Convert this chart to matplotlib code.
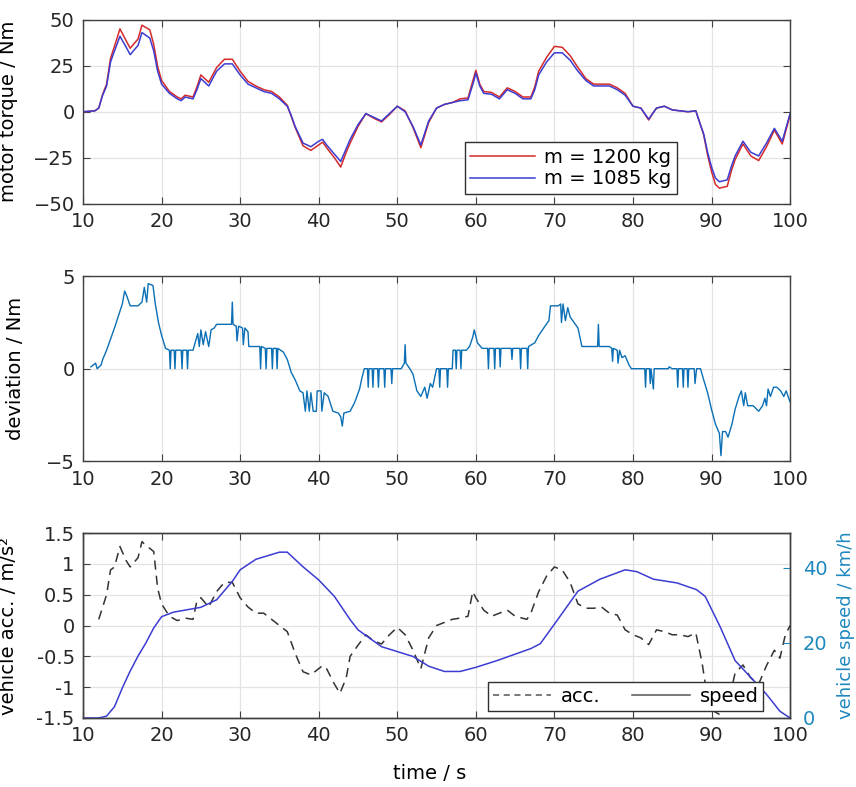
import matplotlib
matplotlib.use("Agg")
import matplotlib.pyplot as plt
from matplotlib.lines import Line2D

# ---- data ----
tq_t = [10, 11.5, 12, 12.5, 13, 13.5, 14, 14.7, 15.5, 16, 17, 17.5, 18.5, 19, 19.5, 20, 21, 22, 22.5, 23,
        24, 24.5, 25, 26, 27, 28, 29, 30, 31, 32, 33, 34, 35, 36, 36.5, 37, 38, 39, 40, 40.5,
        41, 42, 42.8, 43.5, 44, 45, 46, 47, 48, 49, 50, 51, 52, 53, 54, 55, 56, 57, 58, 59,
        59.7, 60, 60.5, 61, 62, 63, 64, 65, 66, 67, 67.5, 68, 69, 70, 71, 72, 73, 74, 75, 76,
        77, 78, 79, 80, 81, 82, 82.5, 83, 84, 85, 86, 87, 88, 88.5, 89, 89.5, 90, 90.5, 91, 92,
        92.5, 93, 94, 95, 96, 97, 98, 99, 100]
tq_1200 = [0, 0.5, 2, 9.5, 15, 29, 35.5, 45, 38.5, 34.5, 39.5, 47, 44.5, 36.5, 24.5, 17, 11, 8, 7, 9,
           8, 13.5, 20, 16, 24, 28.5, 28.5, 22, 16.5, 14, 12, 11, 8, 3.5, -2.5, -8.5, -18.5, -21, -18, -16.5,
           -19.5, -25, -30, -22, -17, -8, -1, -3.5, -5.5, -1.5, 3, 0.5, -8.5, -19.5, -5.8, 2, 4, 5, 7, 7.5,
           18, 22.5, 15, 11, 10.5, 8, 13, 11, 8, 8, 13.5, 22, 29.5, 35.5, 35, 30.5, 24, 18, 15, 15,
           15, 13, 10, 3, 2, -4.5, -1, 2, 3, 1, 0.5, 0, 0.5, -6, -12.5, -23.5, -32.5, -39.5, -41.5, -40.5,
           -32.5, -26, -17.5, -24, -26.5, -19, -10, -17.5, -1.8]
tq_1085 = [0, 0.5, 2, 9, 14, 27, 33, 41, 35, 31, 36, 43, 40, 33, 22, 15, 10, 7, 6, 8,
           7, 12, 18, 14, 22, 26, 26, 20, 15, 13, 11, 10, 7, 3, -2, -8, -17, -19, -16, -15,
           -18, -23, -27, -20, -15, -7, -1, -3, -5, -1, 3, 0, -8, -18, -5, 2, 4, 5, 6, 6.5,
           16, 21, 14, 10, 9.5, 7, 12, 10, 7, 7, 12, 20, 27, 32, 32, 28, 22, 17, 14, 14,
           14, 12, 9, 3, 2, -4, -1, 2, 3, 1, 0.5, 0, 0.5, -6, -12, -22, -30, -36, -38, -37,
           -30, -24, -16, -22, -24, -17, -9, -16, -1]

dev_t = [11, 11.6, 11.8, 12.3, 12.5, 13, 14, 15, 15.3, 15.6, 16, 17, 17.5, 17.8, 18.1, 18.3, 18.9, 19.2, 19.6, 20,
         20.5, 21.0, 21.1, 21.2, 21.6, 21.7, 21.8, 22.5, 22.6, 22.7, 23.2, 23.3, 23.4, 24, 24.6, 24.8, 25.0, 25.3, 25.6, 26.0,
         26.3, 26.7, 27, 28, 28.9, 29, 29.1, 29.5, 29.6, 29.8, 30.3, 30.4, 30.6, 31, 31.1, 31.4, 32, 32.5, 32.6, 32.7,
         33.2, 33.3, 33.4, 34, 34.1, 34.2, 34.6, 34.7, 34.8, 35.5, 36, 36.5, 37, 37.6, 38, 38.3, 38.5, 38.8, 39.0, 39.3,
         39.7, 39.8, 40.3, 40.4, 40.7, 41.2, 41.8, 42.5, 42.8, 43, 43.2, 44, 44.6, 45.2, 45.5, 45.8, 46.2, 46.3, 46.4, 46.8,
         46.9, 47.0, 47.5, 47.6, 47.7, 48.3, 48.4, 48.5, 49.2, 49.3, 49.4, 50.5, 50.9, 51, 51.1, 51.6, 52, 52.5, 53, 53.5,
         53.8, 54.2, 54.5, 55, 55.3, 55.4, 55.5, 56.3, 56.4, 56.5, 57, 57.1, 57.4, 57.5, 57.6, 58, 58.1, 58.2, 58.8, 59.2,
         59.6, 59.8, 60.2, 60.8, 61.5, 61.6, 61.7, 62.3, 62.4, 62.5, 63.0, 63.1, 63.2, 64.5, 64.6, 64.7, 65.6, 65.7, 65.8, 66.5,
         66.6, 66.7, 67.5, 68, 68.8, 69.3, 69.5, 70.5, 70.8, 70.9, 71.1, 71.4, 71.7, 72, 72.5, 73, 73.5, 75.5, 75.6, 75.7,
         77, 77.3, 77.4, 77.5, 78, 78.1, 78.3, 78.6, 79, 79.5, 79.8, 81.5, 81.6, 81.7, 82.1, 82.2, 82.3, 82.6, 82.7, 84.5,
         84.6, 85, 85.6, 85.7, 85.8, 86.3, 86.4, 86.5, 86.9, 87.0, 87.1, 87.8, 87.9, 88.1, 88.6, 89, 89.5, 90, 90.5, 91,
         91.2, 91.4, 91.8, 92.1, 92.6, 93, 93.5, 93.8, 94.1, 94.3, 94.6, 95.3, 96, 96.5, 96.8, 97, 97.2, 97.5, 97.9, 98.3,
         98.8, 99.2, 99.5, 100]
dev_v = [0.1, 0.3, 0, 0.2, 0.5, 1.0, 2.2, 3.5, 4.2, 3.9, 3.4, 3.4, 3.6, 4.4, 3.6, 4.6, 4.5, 3.5, 2.5, 1.8,
         1.1, 1.0, 0, 1.0, 1.0, 0, 1.0, 1.0, 0, 1.0, 1.0, 0, 1.0, 1.0, 1.9, 1.2, 2.1, 1.3, 2.0, 1.2,
         2.1, 2.2, 2.4, 2.4, 2.4, 3.6, 2.4, 2.3, 1.5, 2.3, 2.2, 1.3, 2.2, 2.0, 1.2, 1.2, 1.2, 1.2, 0, 1.2,
         1.1, 0, 1.1, 1.1, 0, 1.1, 1.1, 0, 1.1, 0.9, 0.5, -0.2, -0.6, -1.2, -1.3, -2.3, -1.2, -2.3, -1.3, -2.3,
         -2.3, -1.2, -1.2, -2.3, -1.3, -1.5, -2.3, -2.4, -2.6, -3.1, -2.4, -2.3, -1.8, -1.1, -0.5, 0, 0, -1.0, 0, 0,
         -1.0, 0, 0, -1.0, 0, 0, -1.0, 0, 0, -0.8, 0, 0, 0.3, 1.3, 0.3, 0, -0.3, -1.2, -1.5, -1.0,
         -1.6, -0.8, -1.0, 0, 0, -1.0, 0, 0, -1.0, 0, 0, 1.0, 1.0, 0, 1.0, 1.0, 0, 1.0, 1.0, 1.2,
         1.7, 2.1, 1.4, 1.1, 1.1, 0, 1.1, 1.1, 0, 1.1, 1.1, 0.1, 1.1, 1.1, 0.5, 1.1, 1.1, 0, 1.1, 1.1,
         0, 1.2, 1.4, 1.8, 2.3, 2.6, 3.4, 3.4, 3.5, 2.5, 3.5, 2.6, 3.3, 2.8, 2.5, 2.2, 1.2, 1.2, 2.4, 1.2,
         1.2, 1.1, 0.4, 1.1, 1.0, 0.3, 1.0, 0.6, 0.7, 0.2, 0, 0, -1.0, 0, 0, -0.8, 0, -1.1, 0, 0,
         0.1, 0, 0, -1.0, 0, 0, -1.0, 0, 0, -1.0, 0, 0, -0.8, 0, 0, -0.6, -1.3, -2.2, -3.0, -3.5,
         -4.7, -3.4, -3.4, -3.7, -3.0, -2.2, -1.5, -1.2, -2.0, -1.3, -2.0, -2.0, -2.3, -2.0, -1.6, -2.0, -1.1, -1.5, -1.0, -1.0,
         -1.2, -1.5, -1.2, -1.8]

acc_t = [12, 12.5, 13, 13.5, 14, 14.7, 15.5, 16, 17, 17.5, 18, 19, 19.5, 20, 21, 22, 23, 24, 24.5, 25,
         26, 27, 28, 29, 30, 31, 32, 33, 34, 35, 36, 37, 38, 39, 40.5, 41, 42, 42.7, 43.5, 44,
         45, 46, 47, 48, 49, 50, 51, 52, 53, 53.5, 54, 55, 56, 57, 58, 59, 59.6, 60, 61, 62,
         63, 64, 65, 66.5, 67, 68, 69, 70, 71, 72, 73, 74, 75, 76, 77, 78, 79, 80, 81, 82,
         83, 84, 85, 86, 87, 88, 88.8, 89.4, 90.3, 91.1, 92, 93, 94, 95, 96, 97, 98, 98.7, 99.4, 100]
acc_v = [0.1, 0.3, 0.5, 0.9, 0.95, 1.28, 1.05, 0.95, 1.1, 1.36, 1.3, 1.2, 0.6, 0.35, 0.15, 0.08, 0.12, 0.1, 0.4, 0.45,
         0.3, 0.55, 0.7, 0.7, 0.45, 0.3, 0.2, 0.2, 0.1, 0.0, -0.1, -0.45, -0.75, -0.8, -0.65, -0.7, -0.95, -1.1, -0.85, -0.5,
         -0.32, -0.15, -0.25, -0.3, -0.15, -0.03, -0.15, -0.4, -0.7, -0.45, -0.2, 0.0, 0.05, 0.1, 0.12, 0.15, 0.55, 0.45, 0.25, 0.15,
         0.2, 0.25, 0.15, 0.1, 0.2, 0.55, 0.8, 0.95, 0.9, 0.7, 0.35, 0.28, 0.28, 0.3, 0.2, 0.17, -0.07, -0.15, -0.2, -0.31,
         -0.07, -0.1, -0.15, -0.15, -0.18, -0.12, -0.61, -1.1, -1.39, -1.45, -1.34, -0.77, -0.64, -0.85, -0.95, -0.65, -0.4, -0.53, -0.15, 0.0]

spd_t = [10, 12, 13, 14, 15, 16, 17, 18, 19, 20, 21.5, 25, 27, 29, 30, 32, 35, 36, 38, 40,
         42, 44, 45, 48, 50, 52, 54, 56, 58, 60, 62.7, 67, 68.2, 70, 73, 75.8, 79, 80.5, 82.6, 85.6,
         88.1, 89.2, 91.1, 93, 95, 97, 98.7, 100]
spd_v = [0, 0, 0.5, 3, 8, 12.5, 16.5, 20, 24, 27, 28.2, 29.5, 31.5, 36.4, 39.5, 42.3, 44.2, 44.2, 40.3, 36.8,
         32.4, 26.2, 23.5, 19, 17.7, 16.4, 13.8, 12.4, 12.4, 13.5, 15.3, 18.5, 19.8, 25, 33.8, 37, 39.5, 39, 37, 36,
         34.2, 32.4, 24.3, 15.3, 10.8, 6.3, 1.8, 0]

xticks = list(range(10, 101, 10))

# ---- style ----
plt.rcParams['font.family'] = ['DejaVu Sans']
plt.rcParams['font.size'] = 14
edge = '#404040'
red = '#d42a2a'
blue = '#3c3cd2'
devblue = '#0a6fb5'
spdcol = '#1e88bf'

fig = plt.figure(figsize=(8.56, 7.87), dpi=100)
ax1 = fig.add_axes([0.097, 0.741, 0.826, 0.234])
ax2 = fig.add_axes([0.097, 0.414, 0.826, 0.235])
ax3 = fig.add_axes([0.097, 0.0877, 0.826, 0.235])


def style(ax):
    ax.set_xlim(10, 100)
    ax.set_xticks(xticks)
    ax.grid(True, color='#e3e3e3', linewidth=0.9)
    ax.set_axisbelow(True)
    for s in ax.spines.values():
        s.set_color(edge)
        s.set_linewidth(1.0)
    ax.tick_params(direction='in', length=5, width=0.8, colors=edge, labelcolor='#262626',
                   top=True, right=True, labelsize=14, pad=6)


# top: motor torque
ax1.plot(tq_t, tq_1200, color=red, lw=1.1, label='m = 1200 kg')
ax1.plot(tq_t, tq_1085, color=blue, lw=1.1, label='m = 1085 kg')
style(ax1)
ax1.set_ylim(-50, 50)
ax1.set_yticks([-50, -25, 0, 25, 50])
ax1.set_ylabel('motor torque / Nm')
ax1.yaxis.set_label_coords(-0.092, 0.5)
leg = ax1.legend(loc='upper left', bbox_to_anchor=(0.526, 0.39), fancybox=False, framealpha=1,
                 edgecolor='#303030', handlelength=3.3, borderpad=0.3, labelspacing=0.15,
                 handletextpad=0.5, fontsize=14)
leg.get_frame().set_linewidth(1.0)

# middle: deviation
ax2.plot(dev_t, dev_v, color=devblue, lw=1.0)
style(ax2)
ax2.set_ylim(-5, 5)
ax2.set_yticks([-5, 0, 5])
ax2.set_ylabel('deviation / Nm')
ax2.yaxis.set_label_coords(-0.082, 0.5)

# bottom: acceleration and speed
ax3.plot(acc_t, acc_v, color='#333333', lw=1.1, ls=(0, (6, 4)))
style(ax3)
ax3.tick_params(right=False)
ax3.set_ylim(-1.5, 1.5)
ax3.set_yticks([-1.5, -1, -0.5, 0, 0.5, 1, 1.5])
ax3.set_yticklabels(['-1.5', '-1', '-0.5', '0', '0.5', '1', '1.5'])
ax3.set_ylabel('vehicle acc. / m/s²')
ax3.yaxis.set_label_coords(-0.092, 0.5)
ax3.set_xlabel('time / s')
ax3.xaxis.set_label_coords(0.49, -0.25)

ax4 = ax3.twinx()
ax4.plot(spd_t, spd_v, color=blue, lw=1.1)
ax4.set_ylim(0, 49.3)
ax4.set_yticks([0, 20, 40])
ax4.tick_params(direction='in', length=5, width=0.8, colors=spdcol, labelcolor=spdcol,
                labelsize=14, pad=9)
for s in ax4.spines.values():
    s.set_color(edge)
    s.set_linewidth(1.0)
ax4.set_ylabel('vehicle speed / km/h', color=spdcol, fontsize=13)
ax4.yaxis.set_label_coords(1.066, 0.5)

handles = [Line2D([], [], color='#555555', lw=1.1, ls=(0, (4, 3))),
           Line2D([], [], color='#555555', lw=1.1)]
leg3 = ax4.legend(handles, ['acc.', 'speed'], loc='upper left', bbox_to_anchor=(0.559, 0.245),
                  ncol=2, fancybox=False, framealpha=1, edgecolor='#303030', handlelength=3.0,
                  borderpad=0.25, columnspacing=1.6, handletextpad=0.5, fontsize=14)
leg3.get_frame().set_linewidth(1.0)

fig.savefig('out.png', dpi=100)
